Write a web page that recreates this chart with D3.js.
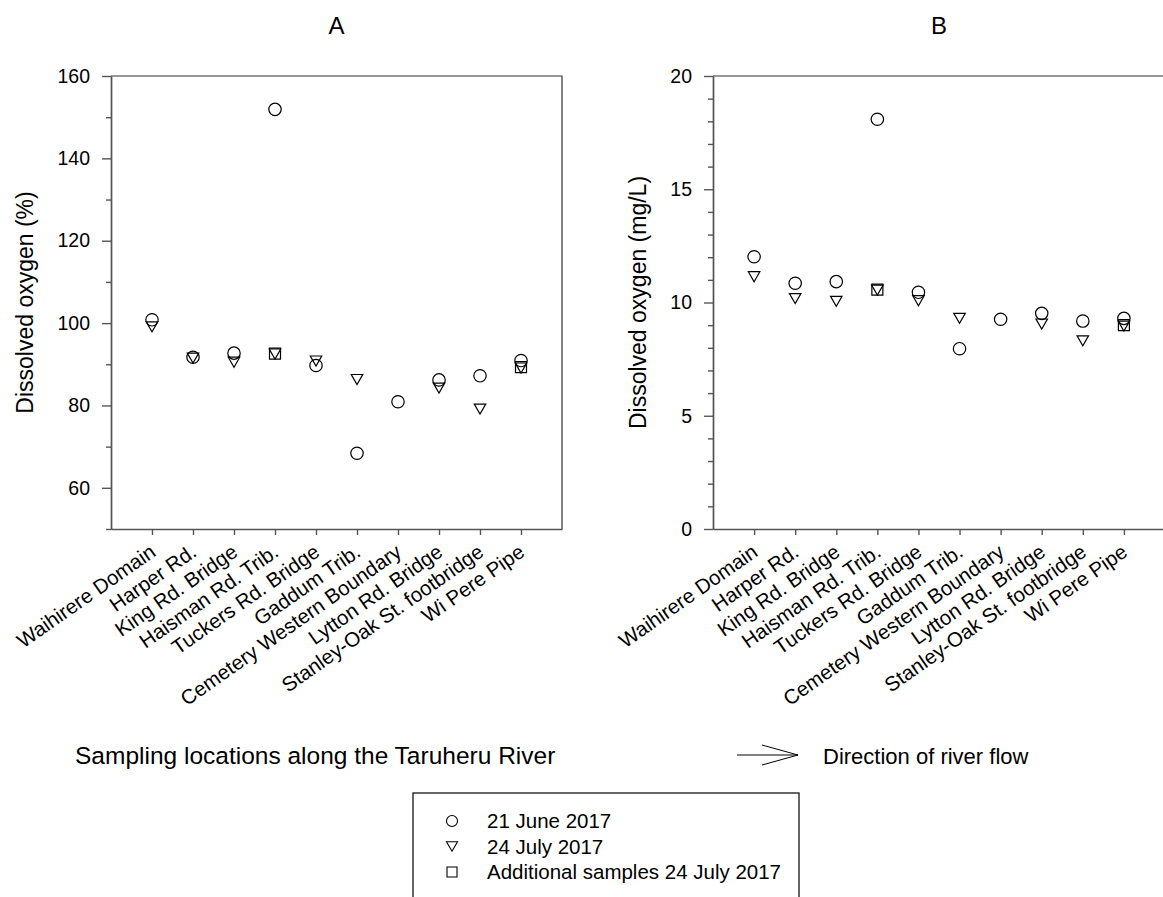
<!DOCTYPE html>
<html>
  <head>
    <meta charset="utf-8">
    <title></title>
    <script type="text/javascript" src="https://d3js.org/d3.v7.min.js"></script>
    <style media="screen">
      body { margin: 0; background: #fff; }
      text { font-family: "Liberation Sans", Arial, sans-serif; fill: #000; }
    </style>
  </head>
  <body>
    <div class="vis">
    </div>
    <script type="text/javascript">
      var w = 1163;
      var h = 897;

      // sampling locations, upstream to downstream
      var locations = ["Waihirere Domain", "Harper Rd.", "King Rd. Bridge", "Haisman Rd. Trib.",
        "Tuckers Rd. Bridge", "Gaddum Trib.", "Cemetery Western Boundary", "Lytton Rd. Bridge",
        "Stanley-Oak St. footbridge", "Wi Pere Pipe"];

      // dissolved oxygen, % saturation
      var pctJune  = [100.8, 91.7, 92.7, 151.9, 89.7, 68.4, 80.9, 86.2, 87.2, 90.9];
      var pctJuly  = [99.1, 91.5, 90.5, 92.5, 90.8, 86.3, null, 84.2, 79.1, 89.1];
      var pctExtra = [null, null, null, 92.6, null, null, null, null, null, 89.3];

      // dissolved oxygen, mg/L
      var mgJune  = [12.02, 10.85, 10.92, 18.09, 10.45, 7.96, 9.26, 9.52, 9.18, 9.3];
      var mgJuly  = [11.14, 10.17, 10.05, 10.55, 10.08, 9.3, null, 9.05, 8.31, 8.96];
      var mgExtra = [null, null, null, 10.57, null, null, null, null, null, 9.0];

      var pctTicks = [60, 80, 100, 120, 140, 160];
      var pctMinor = [50, 70, 90, 110, 130, 150];
      var mgTicks = [0, 5, 10, 15, 20];
      var mgMinor = [1, 2, 3, 4, 6, 7, 8, 9, 11, 12, 13, 14, 16, 17, 18, 19];

      var legendLabels = ["21 June 2017", "24 July 2017", "Additional samples 24 July 2017"];

      var yTop = 76, yBottom = 529;

      var svg = d3.select('.vis')
        .append('svg')
        .attr('width', w)
        .attr('height', h);

      var circlePath = function(r) {
        return d3.symbol().type(d3.symbolCircle).size(Math.PI * r * r)();
      };
      var trianglePath = function(wd, ht) {
        return 'M' + (-wd / 2) + ',' + (-ht / 2) + 'L' + (wd / 2) + ',' + (-ht / 2) + 'L0,' + (ht / 2) + 'Z';
      };
      var squarePath = function(s) {
        return 'M' + (-s / 2) + ',' + (-s / 2) + 'h' + s + 'v' + s + 'h' + (-s) + 'Z';
      };
      var shapes = [circlePath(6.2), trianglePath(11.5, 10), squarePath(11)];

      function panel(left, right, title, ylabel, labelX, domain, ticks, minor, series) {
        var xscale = d3.scalePoint()
          .domain(locations)
          .range([left, right])
          .padding(1);
        var yscale = d3.scaleLinear()
          .domain(domain)
          .range([yBottom, yTop]);

        var g = svg.append('g');

        // frame: top and right
        g.append('path')
          .attr('d', 'M' + left + ',' + yTop + 'H' + right + 'V' + yBottom)
          .attr('fill', 'none')
          .attr('stroke', '#333')
          .attr('stroke-width', 1.2);

        var yAxis = d3.axisLeft(yscale).tickValues(ticks).tickSize(9).tickPadding(12).tickSizeOuter(0);
        var yMinor = d3.axisLeft(yscale).tickValues(minor).tickSize(5).tickFormat('').tickSizeOuter(0);
        var xAxis = d3.axisBottom(xscale).tickSize(6).tickFormat('').tickSizeOuter(0);

        [yAxis, yMinor].forEach(function(ax) {
          g.append('g')
            .attr('class', 'axis')
            .attr('transform', 'translate(' + left + ',0)')
            .call(ax);
        });
        g.append('g')
          .attr('class', 'axis')
          .attr('transform', 'translate(0,' + yBottom + ')')
          .call(xAxis);
        g.selectAll('.axis path, .axis line')
          .attr('stroke', '#555')
          .attr('stroke-width', 1.4);
        g.selectAll('.axis text')
          .attr('font-size', 19.5)
          .attr('font-family', '"Liberation Sans", Arial, sans-serif');

        // category labels
        g.selectAll('.cat')
          .data(locations)
          .enter()
          .append('text')
          .attr('class', 'cat')
          .attr('text-anchor', 'end')
          .attr('font-size', 20.5)
          .attr('transform', function(d) {
            return 'translate(' + (xscale(d) + 5) + ',' + (yBottom + 26) + ') rotate(-35)';
          })
          .text(function(d) { return d; });

        g.append('text')
          .attr('x', (left + right) / 2)
          .attr('y', 34)
          .attr('text-anchor', 'middle')
          .attr('font-size', 24)
          .text(title);

        g.append('text')
          .attr('transform', 'translate(' + labelX + ',' + ((yTop + yBottom) / 2) + ') rotate(-90)')
          .attr('text-anchor', 'middle')
          .attr('font-size', 23)
          .text(ylabel);

        series.forEach(function(vals, k) {
          g.selectAll('.s' + k)
            .data(vals.map(function(v, i) { return {loc: locations[i], v: v}; })
              .filter(function(d) { return d.v !== null; }))
            .enter()
            .append('path')
            .attr('class', 's' + k)
            .attr('d', shapes[k])
            .attr('transform', function(d) {
              return 'translate(' + xscale(d.loc) + ',' + yscale(d.v) + ')';
            })
            .attr('fill', 'none')
            .attr('stroke', '#000')
            .attr('stroke-width', 1.2);
        });
      }

      panel(111, 562, 'A', 'Dissolved oxygen (%)', 33, [50, 160], pctTicks, pctMinor, [pctJune, pctJuly, pctExtra]);
      panel(713, 1165, 'B', 'Dissolved oxygen (mg/L)', 646, [0, 20], mgTicks, mgMinor, [mgJune, mgJuly, mgExtra]);

      // bottom captions
      svg.append('text')
        .attr('x', 75)
        .attr('y', 764)
        .attr('font-size', 24.5)
        .text('Sampling locations along the Taruheru River');

      svg.append('path')
        .attr('d', 'M737,755H798M762,745L798,755L762,765')
        .attr('fill', 'none')
        .attr('stroke', '#000')
        .attr('stroke-width', 1);

      svg.append('text')
        .attr('x', 823)
        .attr('y', 764)
        .attr('font-size', 22)
        .text('Direction of river flow');

      // legend
      svg.append('rect')
        .attr('x', 413)
        .attr('y', 793)
        .attr('width', 386)
        .attr('height', 150)
        .attr('fill', 'none')
        .attr('stroke', '#000')
        .attr('stroke-width', 1.2);

      var legendShapes = [circlePath(5.5), trianglePath(11, 9.5), squarePath(10)];
      var ly = d3.scaleLinear().domain([0, 2]).range([821, 872]);
      var lg = svg.selectAll('.leg')
        .data(legendLabels)
        .enter()
        .append('g')
        .attr('class', 'leg')
        .attr('transform', function(d, i) { return 'translate(0,' + ly(i) + ')'; });
      lg.append('path')
        .attr('d', function(d, i) { return legendShapes[i]; })
        .attr('transform', 'translate(452,0)')
        .attr('fill', 'none')
        .attr('stroke', '#000')
        .attr('stroke-width', 1.1);
      lg.append('text')
        .attr('x', 487)
        .attr('y', 7)
        .attr('font-size', 20.5)
        .text(function(d) { return d; });
    </script>
  </body>
</html>
